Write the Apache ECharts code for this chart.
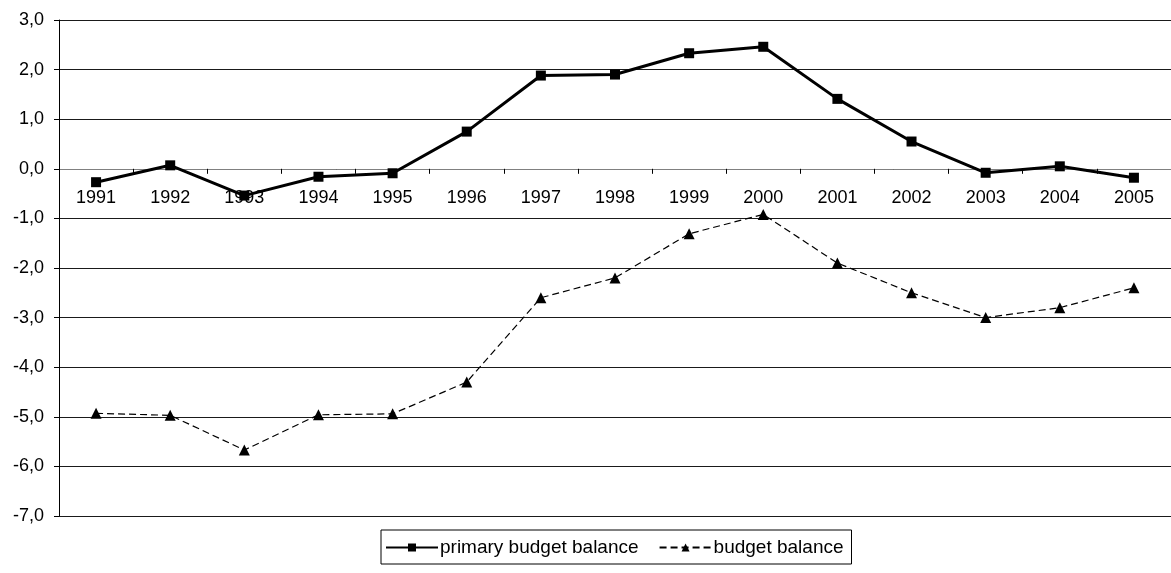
<!DOCTYPE html>
<html>
<head>
<meta charset="utf-8">
<script src="https://cdn.jsdelivr.net/npm/echarts@6/dist/echarts.min.js"></script>
<style>
  html, body { margin: 0; padding: 0; background: #fff; }
  #chart { width: 1171px; height: 573px; }
</style>
</head>
<body>
<div id="chart"></div>
<script>
// Years on the category axis
const years = ['1991','1992','1993','1994','1995','1996','1997','1998','1999','2000','2001','2002','2003','2004','2005'];

// Primary budget balance (% of GDP)
const primaryBalance = [-0.27, 0.07, -0.54, -0.16, -0.09, 0.75, 1.88, 1.90, 2.33, 2.46, 1.41, 0.55, -0.08, 0.05, -0.18];

// Overall budget balance (% of GDP)
const budgetBalance = [-4.93, -4.97, -5.67, -4.96, -4.94, -4.30, -2.6, -2.2, -1.31, -0.92, -1.9, -2.5, -3.0, -2.8, -2.4];

// Value axis range
const yMin = -7, yMax = 3, yStep = 1;

const fontFamily = '"Liberation Sans", Arial, sans-serif';
const gridTop = 20, gridHeight = 496;

// The category axis sits on the zero line; shift it up from the grid bottom
const zeroOffset = -gridHeight * (0 - yMin) / (yMax - yMin);

const chart = echarts.init(document.getElementById('chart'), null, { renderer: 'canvas' });

chart.setOption({
  animation: false,
  backgroundColor: '#ffffff',
  textStyle: { fontFamily: fontFamily, color: '#000' },
  grid: { left: 59, top: gridTop, width: 1115, height: gridHeight, containLabel: false },
  xAxis: {
    type: 'category',
    data: years,
    boundaryGap: true,
    position: 'bottom',
    offset: zeroOffset,
    axisLine: { onZero: false, lineStyle: { color: '#808080', width: 1 } },
    axisTick: { show: true, length: 5, inside: false, lineStyle: { color: '#000' } },
    axisLabel: { color: '#000', fontSize: 18, fontFamily: fontFamily, margin: 20, interval: 0 },
    splitLine: { show: false }
  },
  yAxis: {
    type: 'value',
    min: yMin,
    max: yMax,
    interval: yStep,
    axisLine: { show: true, lineStyle: { color: '#000', width: 1 } },
    axisTick: { show: true, length: 5, lineStyle: { color: '#000' } },
    axisLabel: {
      color: '#000', fontSize: 18, fontFamily: fontFamily, margin: 15,
      formatter: v => v.toFixed(1).replace('.', ',')
    },
    splitLine: { show: true, lineStyle: { color: '#1a1a1a', width: 1 } }
  },
  legend: {
    left: 381,
    top: 530,
    orient: 'horizontal',
    borderColor: '#000',
    borderWidth: 1,
    borderRadius: 0,
    padding: [8, 8, 7, 4],
    itemGap: 20,
    itemWidth: 52,
    itemHeight: 10,
    textStyle: { color: '#000', fontSize: 19, fontFamily: fontFamily, padding: [0, 0, 0, -3] },
    data: [
      { name: 'primary budget balance' },
      { name: 'budget balance' }
    ]
  },
  series: [
    {
      name: 'primary budget balance',
      type: 'line',
      data: primaryBalance,
      symbol: 'rect',
      symbolSize: 10,
      showAllSymbol: true,
      lineStyle: { color: '#000', width: 3, type: 'solid' },
      itemStyle: { color: '#000', borderColor: '#000', borderWidth: 0 },
      z: 3
    },
    {
      name: 'budget balance',
      type: 'line',
      data: budgetBalance,
      symbol: 'triangle',
      symbolSize: 11,
      showAllSymbol: true,
      lineStyle: { color: '#000', width: 1.2, type: [7, 4] },
      itemStyle: { color: '#000', borderColor: '#000', borderWidth: 0 },
      z: 2
    }
  ]
});
</script>
</body>
</html>
